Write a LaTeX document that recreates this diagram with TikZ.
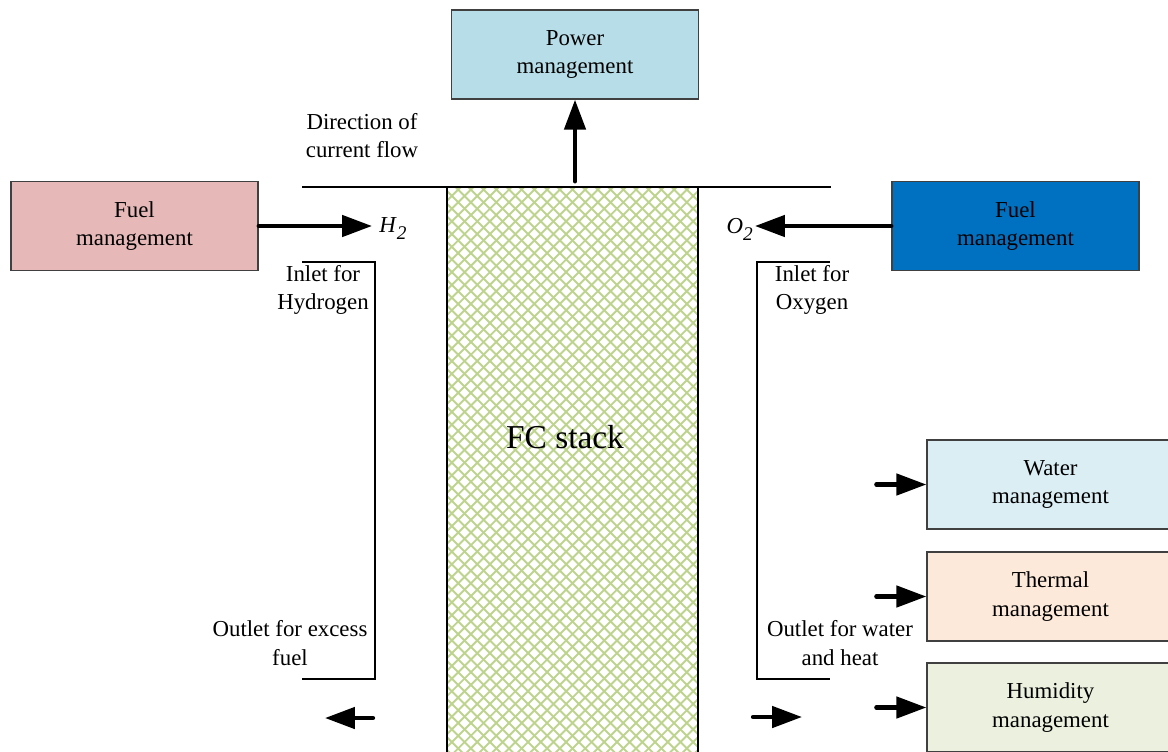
\documentclass[tikz,border=0pt]{standalone}
\usepackage{fontspec}
\setmainfont{Liberation Serif}
\usetikzlibrary{arrows.meta}

\definecolor{bleupuissance}{RGB}{183,222,232}
\definecolor{rosecarburant}{RGB}{230,185,184}
\definecolor{bleucarburant}{RGB}{0,112,192}
\definecolor{bleueau}{RGB}{219,238,244}
\definecolor{orangethermique}{RGB}{253,233,217}
\definecolor{verthumidite}{RGB}{235,241,222}
\definecolor{vertpale}{RGB}{190,212,142}

\begin{document}
\begin{tikzpicture}[x=0.02cm, y=-0.02cm,
		boite/.style={draw=black!75, line width=0.8pt, minimum width=4.94cm, minimum height=1.78cm, align=center, font=\fontsize{13}{16}\selectfont},
		texte/.style={align=center, font=\fontsize{13}{16}\selectfont},
		fleche/.style={line width=2.4pt, line cap=round, -{Triangle[length=17pt, width=12pt]}},
		hachure/.style={draw=vertpale, line width=1.1pt}]

		\useasboundingbox (0, 0) rectangle (1168, 751);

		% pile a combustible
		\node[draw, line width=0.8pt, minimum width=5.02cm, minimum height=11.5cm,
			path picture={
				\foreach \k in {-70,...,70} {
					\draw[hachure] (\k*12.7, -450) -- ++(1000, 1000);
					\draw[hachure] (\k*12.7, -450) -- ++(-1000, 1000);
				}
			}] (stack) at (572.5, 474.5) {};
		\node[font=\fontsize{19}{22}\selectfont] (fc) at (565, 437) {FC stack};

		% ligne du haut
		\draw[line width=0.8pt] (302, 187) -- (831, 187);

		% boites
		\node[boite, fill=bleupuissance] (power) at (575, 54.5) {Power\\management};
		\node[boite, fill=rosecarburant] (fuelL) at (134.5, 226) {Fuel\\management};
		\node[boite, fill=bleucarburant] (fuelR) at (1015.5, 226) {Fuel\\management};
		\node[boite, fill=bleueau] (water) at (1050.5, 484.5) {Water\\management};
		\node[boite, fill=orangethermique] (thermal) at (1050.5, 596.5) {Thermal\\management};
		\node[boite, fill=verthumidite] (humid) at (1050.5, 707.5) {Humidity\\management};

		% textes
		\node[texte] (dir) at (362, 136) {Direction of\\current flow};
		\node[texte] (inH) at (323, 290) {Inlet for\\Hydrogen};
		\node[texte] (outH) at (290, 643) {Outlet for excess\\fuel};
		\node[texte] (inO) at (812, 290) {Inlet for\\Oxygen};
		\node[texte] (outO) at (840, 643) {Outlet for water\\and heat};

		% gaz
		\node[anchor=west, inner xsep=4pt, font=\fontsize{13}{16}\selectfont] (h2) at (372, 229)
			{\textit{H}\raisebox{-4pt}{\fontsize{11}{11}\selectfont\textit{2}}};
		\node[anchor=east, inner xsep=1pt, font=\fontsize{13}{16}\selectfont] (o2) at (755, 229)
			{\textit{O}\raisebox{-4pt}{\fontsize{11}{11}\selectfont\textit{2}}};

		% crochets entree / sortie
		\draw[line width=0.8pt] (302, 262) -| (375, 679) -- (302, 679);
		\draw[line width=0.8pt] (830, 262) -| (757, 679) -- (830, 679);

		% fleches
		\draw[fleche] (power.south |- stack.north) ++(0, -5) -- (power.south);
		\draw[fleche] (fuelL.east) -- (fuelL.east -| h2.west);
		\draw[fleche] (fuelR.west) -- (fuelR.west -| o2.east);

		\coordinate (sortieG) at (373, 718);
		\coordinate (sortieGfin) at (325, 718);
		\coordinate (sortieD) at (753, 717);
		\coordinate (sortieDfin) at (802, 717);
		\draw[fleche] (sortieG) -- (sortieGfin);
		\draw[fleche] (sortieD) -- (sortieDfin);

		\draw[fleche] ([xshift=-1cm]water.west) -- (water.west);
		\draw[fleche] ([xshift=-1cm]thermal.west) -- (thermal.west);
		\draw[fleche] ([xshift=-1cm]humid.west) -- (humid.west);

\end{tikzpicture}
\end{document}
